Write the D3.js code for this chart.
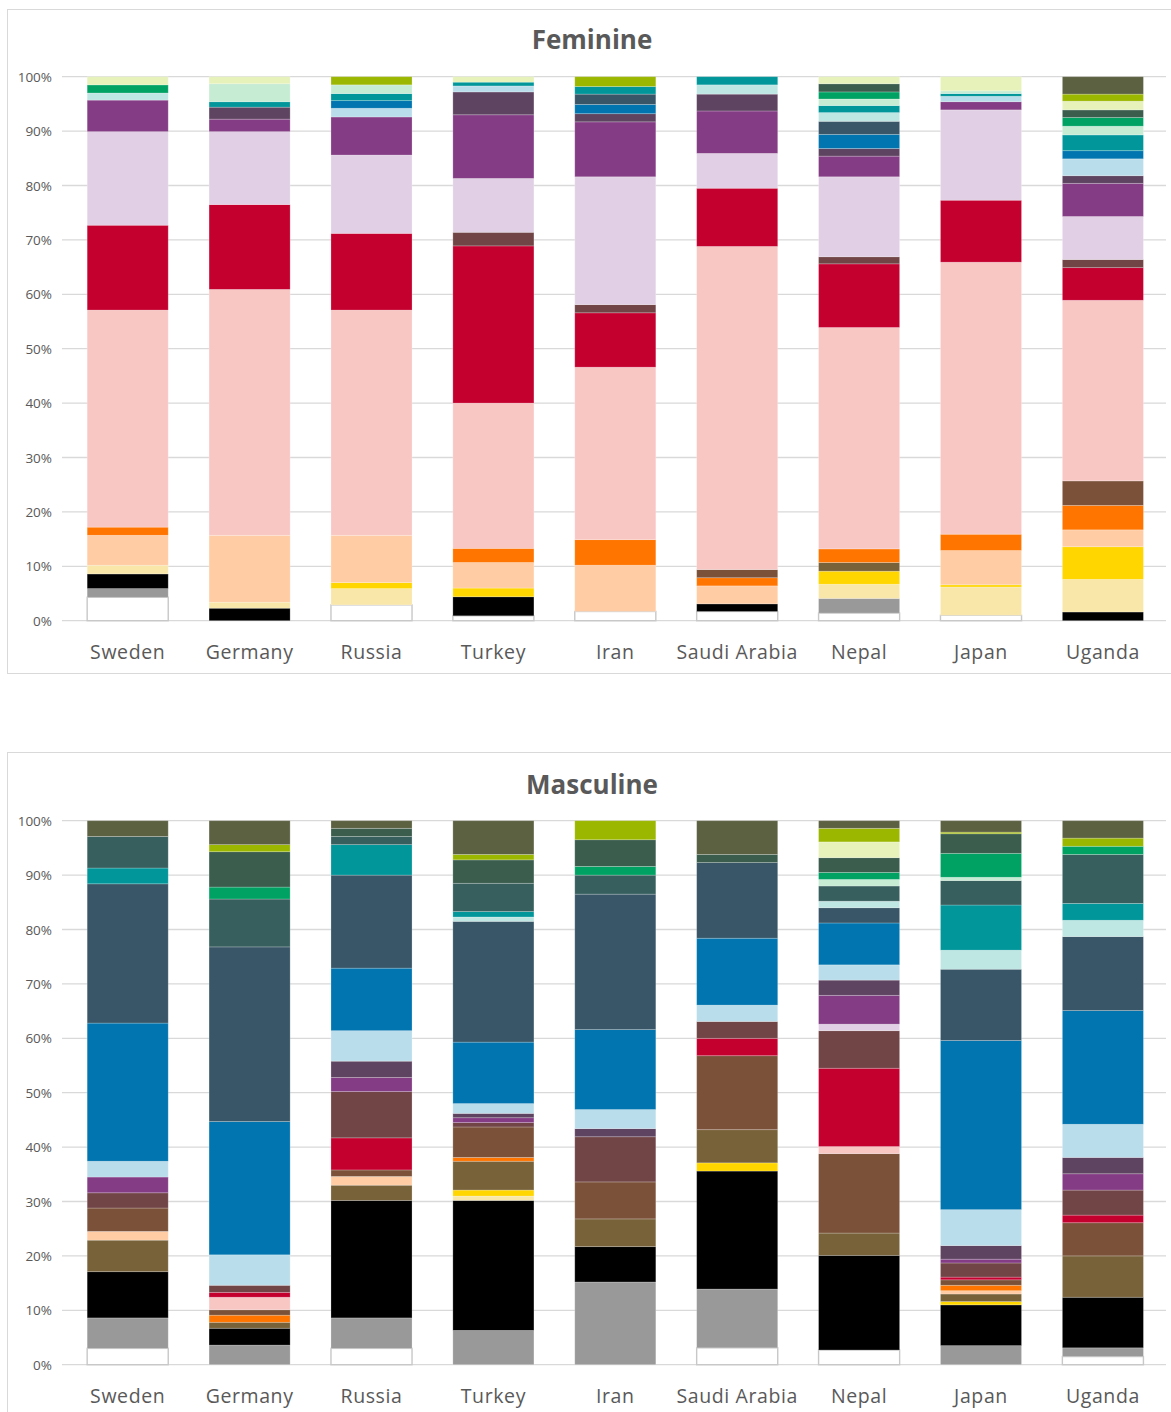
<!DOCTYPE html>
<html>
<head>
<meta charset="utf-8">
<script src="https://cdn.jsdelivr.net/npm/d3@7"></script>
<style>
  html, body { margin: 0; padding: 0; background: #ffffff; }
  svg { display: block; font-family: "Open Sans", "Liberation Sans", sans-serif; }
</style>
</head>
<body>
<svg id="chart" width="1171" height="1412"></svg>
<script>
// Countries along the x axis
const countries = ["Sweden", "Germany", "Russia", "Turkey", "Iran", "Saudi Arabia", "Nepal", "Japan", "Uganda"];

// Stack order, bottom to top, and the fill of each series
const seriesKeys = [
  "white", "gray", "black", "paleYellow", "yellow", "oliveBrown", "peach", "orange", "brown",
  "pink", "crimson", "maroon", "lilac", "purple", "plum", "lightBlue", "blue", "slate",
  "lightCyan", "teal", "darkTeal", "mint", "green", "darkGreen", "paleYellowGreen", "yellowGreen", "darkOlive"
];
const seriesColors = [
  "#FFFFFF", "#999999", "#000000", "#F9E7A9", "#FFD600", "#786239", "#FFCCA3", "#FF7500", "#7B5239",
  "#F8C7C4", "#C4002F", "#714446", "#E1D0E5", "#843C85", "#5E4461", "#BADDEB", "#0075AF", "#385667",
  "#BEE6E3", "#00969A", "#365F5E", "#C6ECD3", "#00A263", "#3A5D4D", "#E6F2BA", "#9CB700", "#5C6142"
];

// Shares in percent: one row per series (same order as seriesKeys), one column per country
const feminineShares = [
  [4.3, 0, 2.9, 0.9, 1.7, 1.7, 1.4, 1.0, 0],
  [1.6, 0, 0, 0, 0, 0, 2.7, 0, 0],
  [2.7, 2.3, 0, 3.5, 0, 1.4, 0, 0, 1.6],
  [1.6, 1.1, 3.0, 0, 0, 0, 2.6, 5.2, 6.0],
  [0, 0, 1.1, 1.6, 0, 0, 2.4, 0.4, 6.0],
  [0, 0, 0, 0, 0, 0, 1.6, 0, 0],
  [5.5, 12.3, 8.7, 4.7, 8.5, 3.3, 0, 6.3, 3.1],
  [1.5, 0, 0, 2.6, 4.7, 1.5, 2.5, 3.0, 4.5],
  [0, 0, 0, 0, 0, 1.5, 0, 0, 4.5],
  [39.9, 45.2, 41.4, 26.7, 31.7, 59.4, 40.7, 50.0, 33.2],
  [15.6, 15.6, 14.1, 28.9, 10.0, 10.7, 11.7, 11.4, 6.0],
  [0, 0, 0, 2.5, 1.5, 0, 1.3, 0, 1.5],
  [17.2, 13.4, 14.4, 9.9, 23.5, 6.4, 14.7, 16.6, 7.9],
  [5.8, 2.3, 7.0, 11.7, 10.1, 7.8, 3.8, 1.5, 6.1],
  [0, 2.2, 0, 4.2, 1.5, 3.1, 1.4, 0, 1.4],
  [0, 0, 1.6, 1.1, 0, 0, 0, 1.0, 3.1],
  [0, 0, 1.4, 0, 1.7, 0, 2.6, 0, 1.5],
  [0, 0, 0, 0, 1.9, 0, 2.4, 0, 0],
  [1.3, 0, 0, 0, 0, 1.7, 1.6, 0, 0],
  [0, 1.0, 1.3, 0.7, 1.4, 1.5, 1.3, 0.5, 2.9],
  [0, 0, 0, 0, 0, 0, 0, 0, 0],
  [0, 3.3, 1.6, 0, 0, 0, 1.2, 0.5, 1.6],
  [1.5, 0, 0, 0, 0, 0, 1.3, 0, 1.6],
  [0, 0, 0, 0, 0, 0, 1.5, 0, 1.4],
  [1.5, 1.3, 0, 1.0, 0, 0, 1.3, 2.6, 1.6],
  [0, 0, 1.5, 0, 1.8, 0, 0, 0, 1.3],
  [0, 0, 0, 0, 0, 0, 0, 0, 3.2]
];

const masculineShares = [
  [3.0, 0, 3.0, 0, 0, 3.1, 2.7, 0, 1.5],
  [5.6, 3.6, 5.6, 6.3, 15.2, 10.8, 0, 3.5, 1.6],
  [8.5, 3.1, 21.6, 23.9, 6.5, 21.7, 17.4, 7.5, 9.3],
  [0, 0, 0, 0.8, 0, 0, 0, 0, 0],
  [0, 0, 0, 1.1, 0, 1.5, 0, 0.6, 0],
  [5.8, 1.1, 2.8, 5.3, 5.1, 6.1, 4.1, 1.4, 7.6],
  [1.6, 0, 1.6, 0, 0, 0, 0, 0.6, 0],
  [0, 1.3, 0, 0.7, 0, 0, 0, 1.0, 0],
  [4.3, 1.0, 1.2, 5.6, 6.8, 13.6, 14.6, 1.0, 6.1],
  [0, 2.3, 0, 0, 0, 0, 1.3, 0, 0],
  [0, 0.9, 5.9, 0, 0, 3.2, 14.4, 0.5, 1.4],
  [2.8, 1.3, 8.5, 0.8, 8.3, 3.1, 6.9, 2.6, 4.6],
  [0, 0, 0, 0, 0, 0, 1.2, 0, 0],
  [2.9, 0, 2.6, 0.9, 0, 0, 5.3, 0.7, 3.0],
  [0, 0, 3.0, 0.8, 1.5, 0, 2.8, 2.5, 3.0],
  [2.9, 5.6, 5.6, 1.8, 3.5, 3.0, 2.8, 6.6, 6.1],
  [25.4, 24.5, 11.5, 11.3, 14.7, 12.3, 7.7, 31.1, 20.9],
  [25.6, 32.1, 17.1, 22.2, 24.9, 13.9, 2.8, 13.1, 13.6],
  [0, 0, 0, 0.8, 0, 0, 1.2, 3.5, 3.0],
  [2.9, 0, 5.6, 1.0, 0, 0, 0, 8.3, 3.1],
  [5.8, 8.8, 1.5, 5.2, 3.5, 0, 2.8, 4.5, 9.0],
  [0, 0, 0, 0, 0, 0, 1.2, 0.6, 0],
  [0, 2.2, 0, 0, 1.6, 0, 1.3, 4.4, 1.5],
  [0, 6.5, 1.5, 4.3, 4.9, 1.5, 2.7, 3.6, 0],
  [0, 0, 0, 0, 0, 0, 2.9, 0, 0],
  [0, 1.3, 0, 1.0, 3.5, 0, 2.5, 0.3, 1.5],
  [2.9, 4.4, 1.4, 6.2, 0, 6.2, 1.4, 2.1, 3.2]
];

// Percent gridlines
const percentTicks = [0, 10, 20, 30, 40, 50, 60, 70, 80, 90, 100];

const svg = d3.select("#chart");
const textColor = "#595959";
const gridColor = "#D9D9D9";

const color = d3.scaleOrdinal().domain(seriesKeys).range(seriesColors);

const x = d3.scaleBand()
  .domain(countries)
  .range([66.75, 1163.85])
  .paddingInner(0.335)
  .paddingOuter(0.1675);

const panels = [
  { title: "Feminine", shares: feminineShares, boxTop: 9.5, boxBottom: 673.5, titleY: 39, plotTop: 76.7, plotBottom: 620.7, labelY: 651 },
  { title: "Masculine", shares: masculineShares, boxTop: 752.5, boxBottom: 1430, titleY: 784, plotTop: 820.7, plotBottom: 1364.7, labelY: 1395 }
];

panels.forEach(p => {
  const g = svg.append("g");

  // chart frame
  g.append("rect")
    .attr("x", 7.5).attr("y", p.boxTop)
    .attr("width", 1180).attr("height", p.boxBottom - p.boxTop)
    .attr("fill", "#ffffff")
    .attr("stroke", "#D9D9D9").attr("stroke-width", 1);

  // title
  g.append("text")
    .attr("x", 592).attr("y", p.titleY)
    .attr("text-anchor", "middle").attr("dominant-baseline", "central")
    .attr("font-size", 26).attr("font-weight", 700)
    .attr("fill", textColor)
    .text(p.title);

  const y = d3.scaleLinear().domain([0, 100]).range([p.plotBottom, p.plotTop]);

  // gridlines and percent labels
  const grid = g.append("g");
  grid.selectAll("line").data(percentTicks).join("line")
    .attr("x1", 62).attr("x2", 1166)
    .attr("y1", d => y(d)).attr("y2", d => y(d))
    .attr("stroke", gridColor).attr("stroke-width", 1.3);
  grid.selectAll("text").data(percentTicks).join("text")
    .attr("x", 52).attr("y", d => y(d))
    .attr("text-anchor", "end").attr("dominant-baseline", "central")
    .attr("font-size", 13.5).attr("fill", textColor)
    .text(d => d + "%");

  // stacked 100% bars
  const rows = countries.map((c, j) => {
    const row = { country: c };
    seriesKeys.forEach((k, i) => { row[k] = p.shares[i][j]; });
    return row;
  });
  const stacked = d3.stack().keys(seriesKeys).offset(d3.stackOffsetExpand)(rows);

  const layers = g.append("g").selectAll("g").data(stacked).join("g")
    .attr("fill", d => color(d.key));

  layers.selectAll("rect")
    .data(d => d.filter(s => s[1] - s[0] > 0).map(s => Object.assign(s, { key: d.key })))
    .join("rect")
    .attr("x", s => x(s.data.country))
    .attr("width", x.bandwidth())
    .attr("y", s => y(s[1] * 100))
    .attr("height", s => y(s[0] * 100) - y(s[1] * 100))
    .attr("stroke", s => s.key === "white" ? "#C8C8C8" : "#ffffff")
    .attr("stroke-opacity", s => s.key === "white" ? 1 : 0.28)
    .attr("stroke-width", s => s.key === "white" ? 1.4 : 0.8);

  // country labels
  g.append("g").selectAll("text").data(countries).join("text")
    .attr("x", d => x(d) + x.bandwidth() / 2)
    .attr("y", p.labelY)
    .attr("text-anchor", "middle").attr("dominant-baseline", "central")
    .attr("font-size", 19.5).attr("letter-spacing", 0.6)
    .attr("fill", textColor)
    .text(d => d);
});
</script>
</body>
</html>
